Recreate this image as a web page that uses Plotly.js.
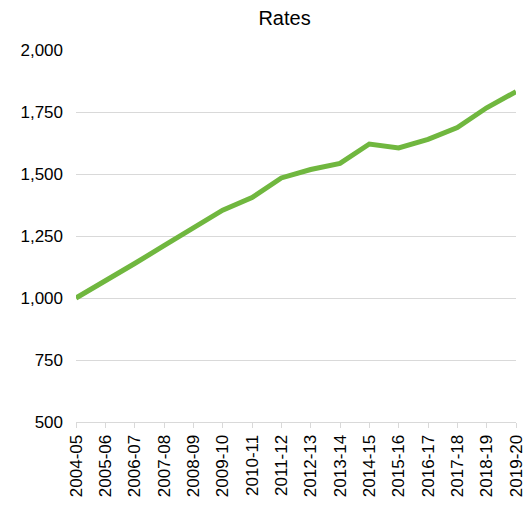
<!DOCTYPE html>
<html>
<head>
<meta charset="utf-8">
<script src="https://cdn.plot.ly/plotly-3.0.1.min.js"></script>
<style>html,body{margin:0;padding:0;background:#fff;}#chart{width:525px;height:508px;}</style>
</head>
<body>
<div id="chart"></div>
<script>
const years = ["2004-05","2005-06","2006-07","2007-08","2008-09","2009-10","2010-11","2011-12","2012-13","2013-14","2014-15","2015-16","2016-17","2017-18","2018-19","2019-20"];
const rates = [1000,1068,1139,1211,1281,1354,1405,1484,1518,1543,1621,1605,1640,1687,1767,1832];
const yTicks = [500,750,1000,1250,1500,1750,2000];
const yTickText = ["500","750","1,000","1,250","1,500","1,750","2,000"];

const trace = {
  x: years,
  y: rates,
  type: 'scatter',
  mode: 'lines',
  line: {color: '#70b73f', width: 5},
  hoverinfo: 'x+y'
};

const layout = {
  width: 525,
  height: 508,
  margin: {l: 76, r: 9, t: 50, b: 86},
  paper_bgcolor: '#ffffff',
  plot_bgcolor: '#ffffff',
  showlegend: false,
  font: {family: 'Liberation Sans, Arial, sans-serif', color: '#000000', size: 17},
  title: {
    text: 'Rates',
    font: {family: 'Liberation Sans, Arial, sans-serif', size: 20, color: '#000000'},
    x: 0.542, xref: 'container', xanchor: 'center',
    y: 0.965, yref: 'container', yanchor: 'middle'
  },
  xaxis: {
    type: 'category',
    range: [0, years.length - 1],
    tickangle: -90,
    showgrid: false,
    showline: true,
    linecolor: '#d9d9d9',
    linewidth: 1,
    ticks: 'outside',
    ticklen: 5,
    tickcolor: '#d9d9d9',
    tickfont: {size: 17, color: '#000000'},
    zeroline: false,
    fixedrange: true
  },
  yaxis: {
    range: [500, 2000],
    tickvals: yTicks,
    ticktext: yTickText,
    showgrid: true,
    gridcolor: '#d9d9d9',
    gridwidth: 1,
    showline: false,
    ticks: '',
    ticklabelstandoff: 12,
    tickfont: {size: 17, color: '#000000'},
    zeroline: false,
    fixedrange: true
  }
};

Plotly.newPlot('chart', [trace], layout, {displayModeBar: false, staticPlot: true});
</script>
</body>
</html>
